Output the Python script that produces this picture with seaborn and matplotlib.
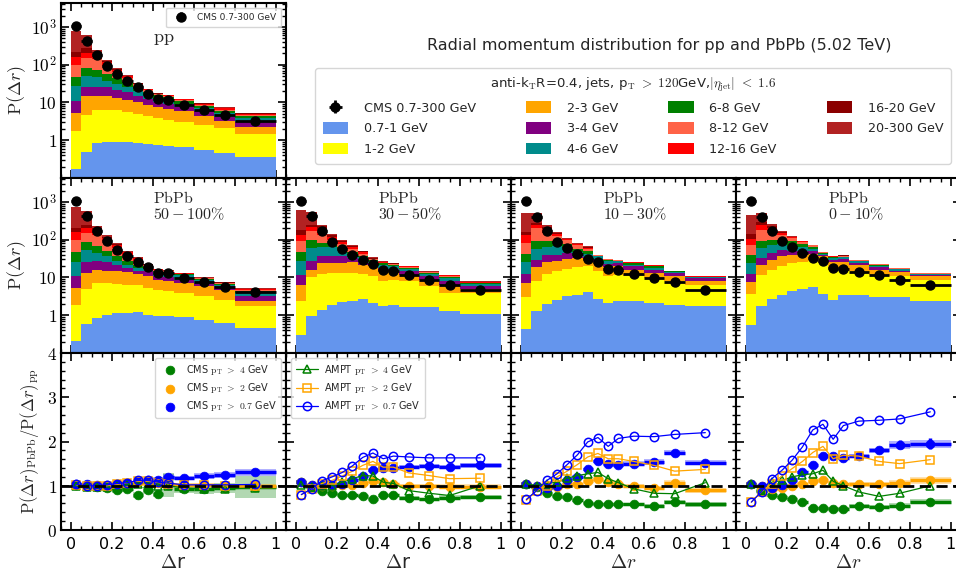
import numpy as np
import matplotlib
matplotlib.use("Agg")
import matplotlib.pyplot as plt
import seaborn as sns
from matplotlib.patches import Patch
from matplotlib.ticker import FixedLocator, FixedFormatter, LogLocator, MultipleLocator, NullFormatter

# ---------------- data ----------------
bin_edges = [0, .05, .1, .15, .2, .25, .3, .35, .4, .45, .5, .6, .7, .8, 1.0]
layer_labels = ["0.7-1 GeV", "1-2 GeV", "2-3 GeV", "3-4 GeV", "4-6 GeV", "6-8 GeV",
                "8-12 GeV", "12-16 GeV", "16-20 GeV", "20-300 GeV"]
layer_colors = ["cornflowerblue", "yellow", "orange", "purple", "darkcyan", "green",
                "tomato", "red", "darkred", "firebrick"]

# cumulative upper edge of each pT layer (stack)
pp_levels = [
    [0.17, 0.48, 0.85, 0.88, 0.90, 0.89, 0.85, 0.80, 0.75, 0.72, 0.65, 0.55, 0.46, 0.36],
    [1.8, 4.7, 6.2, 6.5, 6.2, 5.6, 4.9, 4.3, 3.8, 3.5, 3.1, 2.5, 2.1, 1.5],
    [5.3, 15.2, 15.0, 14.6, 13.2, 11.9, 10.5, 8.8, 7.6, 6.9, 5.9, 4.4, 3.3, 2.3],
    [10.8, 25.8, 25.8, 25.0, 22.0, 18.5, 15.0, 12.0, 10.0, 9.2, 7.5, 5.8, 4.2, 3.0],
    [27, 51, 47, 38, 31, 25, 20, 15.5, 12.5, 11.5, 9.2, 7.0, 5.2, 3.8],
    [47, 84, 74, 58, 44, 34, 26, 19.5, 15.5, 14.0, 10.8, 8.0, 6.0, 4.4],
    [99, 151, 140, 95, 64, 44, 30, 21.5, 16.5, 14.8, 11.5, 8.6, 6.5, 4.7],
    [160, 205, 185, 115, 74, 49, 31.5, 22.3, 17.2, 15.4, 12.0, 9.1, 7.0, 5.0],
    [218, 270, 215, 123, 78, 51, 32.3, 22.7, 17.6, 15.7, 12.3, 9.4, 7.2, 5.15],
    [770, 630, 242, 131, 82, 52.5, 33, 23, 18, 16, 12.7, 9.7, 7.5, 5.3],
]
c50_100_levels = [
    [0.205, 0.57, 0.82, 1.04, 1.13, 1.18, 1.22, 1.04, 0.94, 0.94, 0.885, 0.74, 0.63, 0.46],
    [1.92, 5.1, 7.2, 7.2, 6.8, 6.5, 6.5, 5.3, 4.8, 4.5, 3.9, 3.2, 2.6, 1.73],
    [5.3, 13.2, 16.2, 15.2, 14.6, 14.0, 12.4, 10.8, 8.8, 7.95, 7.2, 5.86, 4.78, 2.44],
    [10.8, 25.8, 28, 25.8, 22, 18, 15, 14.6, 10.8, 10.1, 8.8, 7.2, 5.9, 3.2],
    [25.8, 55, 45, 36, 27, 22, 18, 17.2, 14, 13, 11.4, 8.4, 6.5, 3.8],
    [47.5, 87, 67, 49.5, 36, 28, 22, 19.5, 15.2, 14, 12.4, 9.2, 6.9, 4.3],
    [101, 151, 137, 91, 61, 40, 28, 21, 16, 14.6, 12.7, 9.5, 7.2, 4.8],
    [161, 205, 186, 111, 71, 46, 32, 22, 16.9, 14.9, 12.9, 9.7, 7.3, 5.0],
    [205, 250, 205, 121, 76, 48, 33, 22.5, 17.1, 15.2, 13.0, 9.9, 7.5, 5.1],
    [724, 590, 226, 131, 82, 51, 34, 23, 17.2, 15.5, 13.2, 10.1, 7.6, 5.3],
]
c30_50_levels = [
    [0.30, 0.94, 1.41, 1.92, 2.2, 2.44, 2.7, 2.16, 1.73, 1.92, 1.63, 1.63, 1.33, 1.08],
    [2.44, 10.1, 12.4, 12.9, 13.2, 13.2, 12.4, 10.8, 8.3, 8.8, 7.95, 5.86, 3.9, 3.9],
    [6.5, 16.2, 24.3, 24.3, 24.3, 25.8, 22, 19.8, 14.6, 14.6, 11.9, 8.8, 6.5, 5.0],
    [11.9, 28, 36.5, 36.5, 36.5, 33, 28, 24.3, 17.9, 17.2, 14.6, 10.8, 8.3, 5.86],
    [26.9, 61, 63, 63, 55, 40, 34, 28, 22, 20.2, 17.2, 12.7, 9.7, 6.76],
    [47.5, 100, 82, 82, 63, 47.5, 38, 29, 23.8, 21.4, 18.3, 13.2, 10.6, 7.0],
    [91, 167, 137, 101, 77, 58, 42.6, 30.4, 24.8, 22.2, 19.0, 13.7, 11.0, 7.3],
    [136, 214, 186, 116, 87, 63, 46, 31.6, 25.8, 23.0, 19.8, 14.0, 11.4, 7.6],
    [186, 250, 226, 131, 95, 68, 49.5, 33, 26.3, 23.6, 20.2, 14.3, 11.6, 7.8],
    [600, 545, 250, 142, 99, 71, 51.5, 34, 27, 24.3, 20.6, 14.6, 11.9, 7.95],
]
c10_30_levels = [
    [0.44, 1.33, 2.0, 2.6, 3.2, 3.5, 4.15, 2.76, 2.12, 2.44, 2.44, 2.12, 1.92, 1.73],
    [3.0, 8.3, 12.4, 14.6, 16.9, 18.7, 19.8, 15.2, 10.8, 11.9, 10.8, 9.7, 7.95, 6.2],
    [7.2, 18.7, 25.8, 28, 31.6, 33, 29.6, 25.8, 18.7, 19.8, 16.2, 13.2, 10.8, 7.95],
    [12.4, 29.6, 40.4, 40.4, 44.5, 40.4, 35, 31.6, 22.9, 23.8, 19.8, 16.2, 12.9, 9.4],
    [25.8, 58, 63, 67, 60, 47.5, 42, 36.5, 27, 27, 22, 17.9, 14, 10.1],
    [42, 90.7, 94.8, 90.7, 79, 58, 49.5, 37.2, 29, 28, 23.8, 19.8, 14.6, 10.5],
    [82, 205, 151, 123, 96, 71, 58, 38.9, 30, 28.7, 24.5, 20.5, 14.9, 10.6],
    [131, 240, 190, 140, 103, 76, 62, 39.6, 30.6, 29.1, 25.0, 21.0, 15.0, 10.7],
    [161, 275, 215, 150, 107, 79, 64.5, 40, 31.1, 29.3, 25.4, 21.5, 15.1, 10.75],
    [514, 514, 250, 161, 111, 82, 67, 40.4, 31.6, 29.6, 25.8, 22, 15.2, 10.8],
]
c0_10_levels = [
    [0.566, 1.73, 2.76, 3.52, 4.5, 5.0, 5.5, 3.67, 2.6, 3.52, 3.38, 3.0, 3.0, 2.35],
    [3.67, 11.9, 16.2, 19.8, 24.3, 25.8, 28, 24.3, 17.2, 17.9, 14.6, 11.9, 10.8, 8.8],
    [7.63, 22, 29.6, 36.5, 40.4, 44.5, 42, 36.5, 25.8, 25.8, 22, 16.2, 14, 10.8],
    [12.4, 33, 44.5, 55, 51.5, 51.5, 49.5, 40.4, 29.6, 30.2, 24.8, 18.7, 15.2, 11.9],
    [24.3, 60.6, 71, 77, 67, 63, 58, 43, 33, 34.3, 26.9, 20.2, 16.5, 12.4],
    [40.4, 90.7, 101, 101, 90.7, 77, 65, 44.5, 34.3, 35.7, 28, 21.4, 17.2, 12.7],
    [71, 186, 167, 137, 111, 87, 71, 46, 35.7, 37, 29, 22.4, 17.5, 12.9],
    [107, 250, 205, 155, 118, 91, 72, 46.8, 36, 38, 29.3, 22.6, 17.7, 13.0],
    [142, 300, 230, 160, 120, 93, 73, 47.2, 36.3, 38.5, 29.5, 22.8, 17.8, 13.1],
    [463, 514, 262, 167, 123, 95, 74, 47.5, 36.5, 38.9, 29.6, 22.9, 17.9, 13.2],
]

cms_pp = [1044, 435, 186, 95, 58, 37, 25, 17, 12, 11.5, 8.5, 6.5, 4.6, 3.2]
cms_50_100 = [1044, 417, 175, 91, 55, 36.5, 26, 18.6, 13.2, 12.9, 9.7, 7.6, 5.6, 4.15]
cms_30_50 = [1044, 417, 168, 87, 58, 40, 28.5, 23, 15.6, 14.6, 11.9, 8.8, 6.5, 4.6]
cms_10_30 = [1044, 390, 168, 87, 61, 42.6, 31.6, 25.8, 16.9, 16.2, 12.4, 9.4, 7.6, 4.8]
cms_0_10 = [1044, 390, 168, 91, 64, 44.5, 33, 28, 17.9, 16.9, 14, 11.4, 8.8, 6.5]
cms_rel_err = [0.03, 0.03, 0.04, 0.04, 0.04, 0.05, 0.05, 0.05, 0.06, 0.06, 0.06, 0.07, 0.08, 0.10]

centralities = ["$50-100\\%$", "$30-50\\%$", "$10-30\\%$", "$0-10\\%$"]

# ratio PbPb / pp, per centrality column
cms4 = [
    [1.02, 0.99, 0.97, 0.95, 0.90, 0.92, 0.80, 0.90, 0.82, 1.02, 0.93, 0.92, 0.95, 0.97],
    [1.08, 0.97, 0.89, 0.84, 0.80, 0.78, 0.76, 0.70, 0.78, 0.78, 0.72, 0.69, 0.73, 0.74],
    [1.05, 0.97, 0.84, 0.77, 0.74, 0.67, 0.61, 0.59, 0.59, 0.58, 0.58, 0.55, 0.63, 0.58],
    [1.05, 0.89, 0.78, 0.74, 0.69, 0.63, 0.49, 0.49, 0.48, 0.48, 0.55, 0.52, 0.55, 0.64],
]
cms2 = [
    [1.02, 1.00, 1.00, 1.00, 1.03, 1.05, 1.08, 1.10, 1.06, 1.05, 1.02, 1.02, 1.00, 1.00],
    [1.08, 1.02, 1.00, 1.00, 1.02, 1.02, 1.06, 1.10, 1.08, 1.03, 1.00, 1.00, 0.98, 0.98],
    [1.05, 1.00, 0.97, 0.98, 1.03, 1.05, 1.10, 1.15, 1.08, 1.03, 1.00, 0.95, 1.07, 0.90],
    [1.05, 0.99, 0.93, 0.95, 1.00, 1.05, 1.10, 1.14, 1.06, 1.03, 1.03, 1.03, 1.07, 1.12],
]
cms07 = [
    [1.04, 1.03, 1.01, 1.02, 1.05, 1.07, 1.10, 1.12, 1.14, 1.20, 1.17, 1.22, 1.24, 1.30],
    [1.08, 1.02, 1.02, 1.02, 1.05, 1.14, 1.23, 1.36, 1.40, 1.40, 1.42, 1.44, 1.42, 1.46],
    [1.05, 0.99, 0.95, 1.00, 1.12, 1.20, 1.37, 1.55, 1.50, 1.48, 1.50, 1.54, 1.75, 1.52],
    [1.05, 0.99, 0.95, 1.02, 1.14, 1.30, 1.46, 1.67, 1.67, 1.63, 1.67, 1.80, 1.93, 1.95],
]
ampt4 = [
    [1.00, 0.97, 0.97, 0.97, 1.00, 1.02, 1.05, 1.05, 1.00, 1.00, 0.95, 0.93, 0.93, 0.95],
    [1.02, 0.97, 1.00, 1.00, 1.08, 1.16, 1.23, 1.22, 1.08, 1.05, 0.89, 0.83, 0.78, 1.00],
    [1.05, 1.00, 1.05, 1.08, 1.17, 1.23, 1.27, 1.30, 1.16, 1.07, 0.93, 0.83, 0.82, 1.07],
    [1.05, 0.89, 1.08, 1.12, 1.20, 1.25, 1.27, 1.35, 1.10, 1.00, 0.86, 0.76, 0.83, 1.00],
]
ampt2 = [
    [1.02, 1.00, 1.00, 1.00, 1.03, 1.07, 1.10, 1.10, 1.07, 1.05, 1.02, 1.02, 1.00, 1.00],
    [0.80, 0.93, 1.05, 1.12, 1.22, 1.33, 1.46, 1.55, 1.42, 1.42, 1.29, 1.23, 1.16, 1.17],
    [0.67, 0.89, 1.00, 1.20, 1.33, 1.48, 1.65, 1.73, 1.61, 1.61, 1.55, 1.46, 1.33, 1.37],
    [0.63, 0.87, 1.05, 1.22, 1.39, 1.55, 1.75, 1.89, 1.61, 1.69, 1.67, 1.55, 1.50, 1.59],
]
ampt07 = [
    [1.03, 1.00, 1.00, 1.02, 1.05, 1.07, 1.12, 1.12, 1.08, 1.06, 1.02, 1.02, 1.02, 1.03],
    [0.80, 0.93, 1.11, 1.20, 1.30, 1.45, 1.64, 1.74, 1.61, 1.67, 1.65, 1.63, 1.63, 1.63],
    [0.69, 0.89, 1.12, 1.27, 1.48, 1.70, 1.99, 2.09, 1.89, 2.07, 2.12, 2.11, 2.16, 2.20],
    [0.63, 0.87, 1.16, 1.35, 1.58, 1.88, 2.26, 2.39, 2.05, 2.36, 2.46, 2.48, 2.51, 2.67],
]
sys4 = [
    [0.06, 0.05, 0.05, 0.05, 0.06, 0.06, 0.07, 0.08, 0.08, 0.27, 0.10, 0.10, 0.12, 0.25],
    [0.04, 0.03, 0.03, 0.03, 0.03, 0.03, 0.03, 0.03, 0.04, 0.04, 0.04, 0.04, 0.05, 0.05],
    [0.04, 0.03, 0.03, 0.03, 0.03, 0.03, 0.03, 0.03, 0.03, 0.03, 0.04, 0.04, 0.05, 0.05],
    [0.04, 0.03, 0.03, 0.03, 0.03, 0.03, 0.03, 0.03, 0.03, 0.03, 0.04, 0.04, 0.05, 0.05],
]
sys2 = [
    [0.04, 0.03, 0.03, 0.03, 0.03, 0.03, 0.04, 0.04, 0.04, 0.04, 0.04, 0.04, 0.05, 0.05],
    [0.04, 0.03, 0.03, 0.03, 0.03, 0.03, 0.03, 0.03, 0.04, 0.04, 0.04, 0.04, 0.05, 0.05],
    [0.04, 0.03, 0.03, 0.03, 0.03, 0.03, 0.03, 0.04, 0.04, 0.04, 0.04, 0.05, 0.05, 0.06],
    [0.04, 0.03, 0.03, 0.03, 0.03, 0.03, 0.03, 0.04, 0.04, 0.04, 0.05, 0.05, 0.06, 0.07],
]
sys07 = [
    [0.05, 0.04, 0.04, 0.04, 0.04, 0.04, 0.05, 0.05, 0.05, 0.06, 0.05, 0.06, 0.07, 0.07],
    [0.04, 0.03, 0.03, 0.03, 0.03, 0.03, 0.04, 0.04, 0.04, 0.04, 0.04, 0.05, 0.05, 0.06],
    [0.04, 0.03, 0.03, 0.03, 0.03, 0.04, 0.04, 0.04, 0.04, 0.05, 0.05, 0.06, 0.06, 0.06],
    [0.04, 0.03, 0.03, 0.03, 0.03, 0.04, 0.04, 0.05, 0.05, 0.05, 0.05, 0.06, 0.09, 0.09],
]
stat07 = [
    [0.02, 0.02, 0.02, 0.02, 0.02, 0.02, 0.02, 0.02, 0.02, 0.02, 0.02, 0.03, 0.03, 0.04],
    [0.02, 0.02, 0.02, 0.02, 0.02, 0.02, 0.02, 0.02, 0.02, 0.02, 0.03, 0.03, 0.04, 0.05],
    [0.02, 0.02, 0.02, 0.02, 0.02, 0.02, 0.02, 0.02, 0.02, 0.03, 0.03, 0.04, 0.05, 0.06],
    [0.02, 0.02, 0.02, 0.02, 0.02, 0.02, 0.02, 0.02, 0.03, 0.03, 0.04, 0.05, 0.10, 0.12],
]

# ---------------- style ----------------
sns.set_theme(style="ticks")
plt.rcParams.update({
    "font.family": ["DejaVu Sans"],
    "mathtext.fontset": "cm",
    "xtick.direction": "in", "ytick.direction": "in",
    "xtick.top": True, "ytick.right": True,
    "xtick.major.size": 6, "ytick.major.size": 6,
    "xtick.minor.size": 3, "ytick.minor.size": 3,
    "xtick.major.width": 1.2, "ytick.major.width": 1.2,
    "xtick.minor.width": 1.0, "ytick.minor.width": 1.0,
    "axes.linewidth": 1.5,
    "axes.edgecolor": "black",
    "xtick.color": "black", "ytick.color": "black",
    "legend.edgecolor": "0.8",
})

edges = np.array(bin_edges)
left = edges[:-1]
widths = np.diff(edges)
centers = left + widths / 2
half = widths / 2

fig = plt.figure(figsize=(9.56, 5.78), dpi=100)
L0, W = 61 / 956, 225 / 956
row_b = [1 - 178 / 578, 1 - 353 / 578, 1 - 530 / 578]
row_h = [175 / 578, 175 / 578, 177 / 578]


def setup_dist(ax, first):
    ax.set_yscale("log")
    ax.set_xlim(-0.05, 1.05)
    ax.set_ylim(0.1, 4300)
    ax.yaxis.set_major_locator(FixedLocator([1, 10, 100, 1000]))
    ax.yaxis.set_minor_locator(LogLocator(base=10, subs=np.arange(2, 10)))
    ax.yaxis.set_minor_formatter(NullFormatter())
    if first:
        ax.yaxis.set_major_formatter(FixedFormatter(["$1$", "$10$", "$10^{2}$", "$10^{3}$"]))
        ax.set_ylabel(r"$\mathrm{P}(\Delta r)$", fontsize=13, labelpad=2)
    else:
        ax.yaxis.set_major_formatter(NullFormatter())
    ax.xaxis.set_major_locator(MultipleLocator(0.2))
    ax.xaxis.set_minor_locator(MultipleLocator(0.05))
    ax.xaxis.set_major_formatter(NullFormatter())
    ax.tick_params(axis="y", labelsize=12.5, pad=3)


def draw_stack(ax, levels, cms):
    lv = np.array(levels)
    comps = np.diff(np.vstack([np.zeros(lv.shape[1]), lv]), axis=0)
    bottom = np.zeros(lv.shape[1])
    for comp, col in zip(comps, layer_colors):
        ax.bar(left, comp, width=widths, bottom=bottom, align="edge", color=col,
               linewidth=0, zorder=1)
        bottom = bottom + comp
    cms = np.array(cms)
    eb = ax.errorbar(centers, cms, xerr=half, yerr=cms * np.array(cms_rel_err), fmt="o",
                     color="black", ms=6.5, elinewidth=2, capsize=0, zorder=5)
    return eb


# top row: pp
ax_pp = fig.add_axes([L0, row_b[0], W, row_h[0]])
setup_dist(ax_pp, True)
eb_pp = draw_stack(ax_pp, pp_levels, cms_pp)
ax_pp.text(0.41, 0.80, "$\\mathrm{pp}$", transform=ax_pp.transAxes, fontsize=13,
           va="center")
ax_pp.legend([eb_pp], ["CMS 0.7-300 GeV"], loc="upper right", fontsize=6.5,
             frameon=True, borderpad=0.6, handletextpad=0.8, fancybox=True)

# middle row: PbPb
dist_levels = [c50_100_levels, c30_50_levels, c10_30_levels, c0_10_levels]
dist_cms = [cms_50_100, cms_30_50, cms_10_30, cms_0_10]
for i in range(4):
    ax = fig.add_axes([L0 + i * W, row_b[1], W, row_h[1]])
    setup_dist(ax, i == 0)
    draw_stack(ax, dist_levels[i], dist_cms[i])
    ax.text(0.41, 0.93, "$\\mathrm{PbPb}$\n" + centralities[i], transform=ax.transAxes,
            fontsize=11.5, va="top", linespacing=0.95)

# bottom row: ratios
c_green, c_orange, c_blue = "green", "orange", "blue"
for i in range(4):
    ax = fig.add_axes([L0 + i * W, row_b[2], W, row_h[2]])
    ax.set_xlim(-0.05, 1.05)
    ax.set_ylim(0, 4)
    ax.axhline(1, color="black", lw=2, ls=(0, (4, 2)), zorder=6)
    hc = []
    for vals, sy, st, col, lab in [
        (cms4[i], sys4[i], None, c_green, "CMS $\\mathrm{p_T}$ $>$ $4$ GeV"),
        (cms2[i], sys2[i], None, c_orange, "CMS $\\mathrm{p_T}$ $>$ $2$ GeV"),
        (cms07[i], sys07[i], stat07[i], c_blue, "CMS $\\mathrm{p_T}$ $>$ $0.7$ GeV"),
    ]:
        v = np.array(vals)
        s = np.array(sy)
        ax.bar(left, 2 * s, bottom=v - s, width=widths, align="edge", color=col,
               alpha=0.3, linewidth=0, zorder=2)
        ax.errorbar(centers, v, xerr=half, yerr=st, fmt="none", ecolor=col,
                    elinewidth=2.5, capsize=0, zorder=3)
        sns.scatterplot(x=centers, y=v, color=col, s=40, edgecolor=col, linewidth=0.5,
                        ax=ax, zorder=4, legend=False)
        hc.append((ax.collections[-1], lab))
    ha = []
    for vals, col, mk, lab in [
        (ampt4[i], c_green, "^", "AMPT $\\mathrm{p_T}$ $>$ $4$ GeV"),
        (ampt2[i], c_orange, "s", "AMPT $\\mathrm{p_T}$ $>$ $2$ GeV"),
        (ampt07[i], c_blue, "o", "AMPT $\\mathrm{p_T}$ $>$ $0.7$ GeV"),
    ]:
        sns.lineplot(x=centers, y=vals, color=col, marker=mk, markersize=6,
                     markerfacecolor="none", markeredgecolor=col, markeredgewidth=1.1,
                     lw=0.9, ax=ax, zorder=5, legend=False)
        ha.append((ax.lines[-1], lab))
    ax.yaxis.set_major_locator(MultipleLocator(1))
    ax.yaxis.set_minor_locator(MultipleLocator(0.2))
    ax.xaxis.set_minor_locator(MultipleLocator(0.05))
    ax.set_xticks([0, 0.2, 0.4, 0.6, 0.8, 1.0])
    ax.set_xticklabels(["0", "0.2", "0.4", "0.6", "0.8", "1"])
    ax.tick_params(axis="x", labelsize=11.5, pad=5)
    if i == 0:
        ax.set_yticks([0, 1, 2, 3, 4])
        ax.set_yticklabels(["$0$", "$1$", "$2$", "$3$", "$4$"])
        ax.tick_params(axis="y", labelsize=12.5, pad=3)
        ax.set_ylabel(r"$\mathrm{P}(\Delta r)_{\mathrm{PbPb}}/\mathrm{P}(\Delta r)_{\mathrm{pp}}$",
                      fontsize=12, labelpad=4)
        ax.legend([h for h, _ in hc], [l for _, l in hc], loc="upper right", fontsize=7,
                  frameon=True, borderpad=0.5, handletextpad=0.6, labelspacing=0.45)
    else:
        ax.yaxis.set_major_formatter(NullFormatter())
    if i == 1:
        ax.legend([h for h, _ in ha], [l for _, l in ha], loc="upper left", fontsize=7,
                  frameon=True, borderpad=0.5, handletextpad=0.6, labelspacing=0.45,
                  handlelength=2.3)
    ax.set_xlabel("$\\Delta$r" if i < 2 else "$\\Delta r$", fontsize=14, labelpad=1)

# title and main legend
fig.text(0.69, 0.922, "Radial momentum distribution for pp and PbPb (5.02 TeV)",
         ha="center", va="center", fontsize=11.5)
handles = [eb_pp] + [Patch(facecolor=c, edgecolor="none") for c in layer_colors]
labels = ["CMS 0.7-300 GeV"] + layer_labels
fig.legend(handles, labels, ncol=4, mode="expand", loc="upper left",
           bbox_to_anchor=(315 / 956, 1 - 168 / 578, 636 / 956, 100 / 578),
           borderaxespad=0, fontsize=9.2, frameon=True, borderpad=0.6, handleheight=1.0,
           labelspacing=0.6, handletextpad=1.2,
           title=r"anti-k$_{\mathrm{T}}$R=0.4, jets, p$_{\mathrm{T}}$ $>$ $120$GeV,$|\eta_{\mathrm{jet}}|$ $<$ $1.6$",
           title_fontsize=9.5)

fig.savefig("out.png", dpi=100)
